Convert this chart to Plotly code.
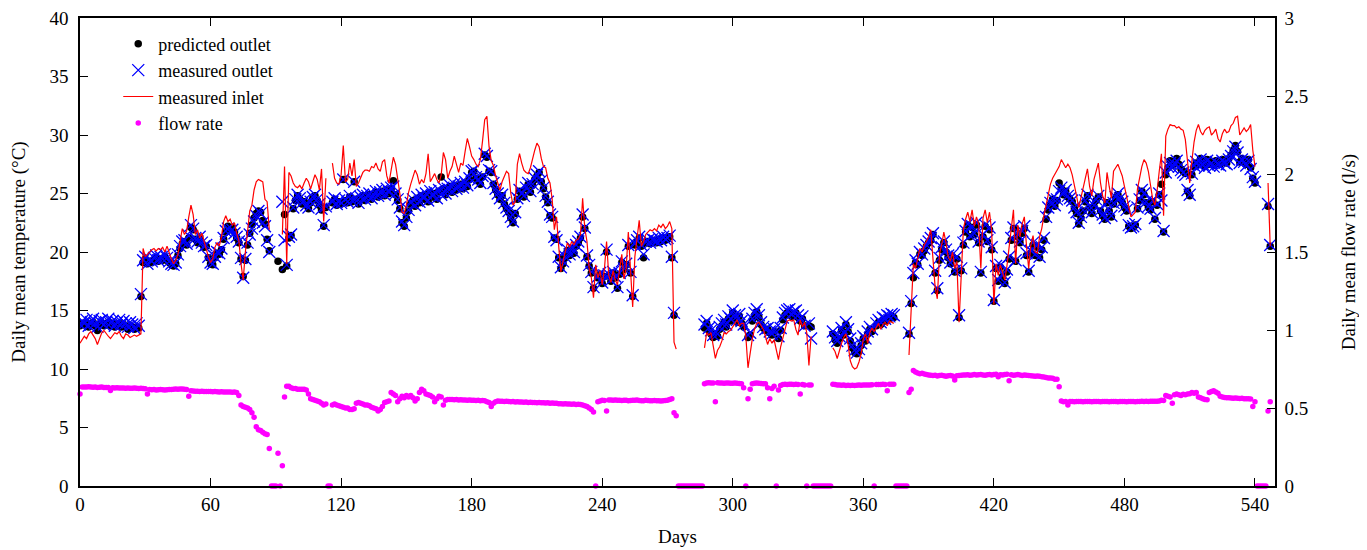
import plotly.graph_objects as go

N = None

# measured outlet temperature (deg C), one value per day starting at day 0 (10 per row)
measured_outlet = [
    13.8, 14.1, 13.9, 14.2, 13.7, 14.0, 14.3, 13.9, 13.6, 14.1,
    14.2, 13.8, 14.0, 14.3, 13.9, 14.1, 13.7, 14.0, 14.2, 13.8,
    14.1, 13.9, 13.6, 14.0, 13.8, 13.5, 13.9, 13.7, 16.4, 19.3,
    19.6, 19.0, 19.4, 19.2, 19.5, 19.7, 19.3, 19.6, 19.4, 19.8,
    19.5, 19.2, 19.0, 18.9, 19.1, 19.8, 20.5, 20.9, 21.0, 20.7,
    21.4, 22.3, 22.0, 21.2, 20.9, 21.3, 20.8, 20.5, 20.6, 19.6,
    19.1, 19.0, 19.6, 20.0, 19.9, 20.3, 21.2, 21.8, 22.0, 21.7,
    21.9, 21.6, 21.3, 20.9, 19.5, 17.8, 19.4, 20.8, 21.5, 22.0,
    22.6, 23.1, 23.5, 23.3, 22.5, 22.2, 21.0, 20.0, N, N,
    N, N, N, 24.3, 21.0, 18.9, 21.3, 21.5, 23.8, 24.5,
    24.9, 24.6, 24.2, 24.4, 24.0, 23.8, 24.3, 24.7, 24.9, 24.5,
    24.1, 23.7, 22.3, 23.9, N, N, 24.3, 24.6, 24.1, 24.4,
    24.2, 26.2, 24.5, 24.3, 24.8, 24.4, 26.0, 24.6, 24.2, 24.7,
    24.9, 24.5, 24.8, 25.0, 24.6, 24.9, 25.2, 24.8, 25.1, 25.3,
    24.9, 25.4, 25.1, 25.5, 25.6, 25.0, 24.5, 23.8, 22.6, 22.3,
    23.0, 23.6, 24.2, 24.5, 24.0, 24.7, 24.3, 24.9, 24.6, 25.0,
    24.4, 25.2, 24.8, 25.1, 24.6, 25.3, 24.9, 25.5, 25.0, 25.4,
    25.7, 25.2, 25.8, 25.4, 25.6, 25.9, 25.5, 26.0, 25.7, 26.3,
    26.9, 27.0, 26.4, 26.2, 25.9, 26.5, 28.4, 28.2, 27.0, 26.9,
    25.9, 25.4, 25.0, 24.6, 24.9, 24.2, 23.8, 23.5, 23.0, 22.6,
    23.4, 24.6, 25.3, 25.0, 24.8, 25.5, 25.9, 25.2, 25.8, 26.3,
    26.6, 26.9, 26.1, 25.5, 24.8, 24.3, 23.2, 23.0, 21.3, 21.0,
    19.6, 18.7, 19.2, 19.6, 20.2, 19.8, 20.4, 20.0, 20.6, 20.9,
    21.3, 23.2, 22.1, 19.7, 18.9, 18.3, 17.0, N, 17.9, 18.2,
    17.4, 18.0, 20.2, 18.1, 17.6, 18.3, 17.9, 17.0, 18.2, 19.2,
    18.6, 19.0, 20.6, 18.3, 16.3, 20.7, 21.0, 21.3, 20.6, 19.8,
    20.9, 21.0, 20.8, 21.1, 21.0, 20.9, 21.2, 21.0, 21.3, 21.1,
    21.2, 21.4, 19.6, 14.8, N, N, N, N, N, N,
    N, N, N, N, N, N, N, 13.8, 14.1, 13.5,
    13.3, 12.9, 13.2, 13.0, 13.6, 13.9, 14.2, 13.8, 14.5, 14.3,
    15.0, 14.6, 14.2, 14.7, 14.1, 13.8, N, 12.9, 13.1, 14.3,
    14.8, 15.1, 14.6, 14.0, 13.6, 13.4, 13.5, 13.2, 13.0, 13.4,
    N, 12.8, 13.5, 14.4, 14.8, 15.0, 15.1, 14.7, 14.9, 15.0,
    14.6, 14.3, 14.5, 13.7, N, 13.9, 12.6, N, N, N,
    N, N, N, N, N, N, 13.2, 12.7, 12.4, 12.8,
    13.5, 13.1, 14.0, 13.4, 12.6, 12.0, 11.6, 11.4, 11.7, 12.2,
    12.8, 12.6, 13.2, 13.6, 13.4, N, 13.9, 14.2, 14.0, 14.4,
    14.3, 14.6, 14.5, 14.7, 14.6, N, N, N, N, N,
    N, 13.1, 15.8, 18.2, 19.3, 19.0, 20.0, 19.8, 20.3, 20.6,
    20.9, 21.2, 21.6, 18.4, 16.9, 19.5, 20.4, 20.9, 20.2, 19.7,
    19.1, 19.8, 18.4, 19.6, 14.6, 18.6, 20.8, 21.8, 22.4, 21.4,
    22.2, 21.6, 22.5, 20.9, 18.3, 21.5, 22.3, 21.0, 22.1, 20.4,
    15.9, 18.8, 17.6, 18.9, 18.1, 17.4, 18.5, 19.6, 21.2, 22.1,
    19.3, 21.5, 20.9, 21.8, 22.2, 19.9, 18.4, 20.1, 20.8, 19.8,
    20.6, 19.6, 20.4, 21.2, 23.0, 23.8, 24.2, 24.6, 24.0, 24.5,
    25.2, 25.5, 25.0, 25.3, 24.8, 24.6, 24.4, 23.8, 23.4, 22.5,
    23.0, 23.6, 24.4, 24.9, 23.9, 23.4, 24.0, 24.5, 24.8, 23.6,
    23.2, 22.9, 24.3, 23.6, 23.1, 24.2, 24.7, 25.0, 24.6, 24.3,
    23.9, 23.6, 22.3, 22.1, 22.2, 22.4, 23.8, 24.5, 25.3, 25.0,
    24.3, 23.9, 23.7, 24.4, 22.9, 24.1, 25.0, 24.4, 21.8, 26.8,
    27.3, 27.6, 27.2, 27.5, 27.8, 27.3, 27.0, 26.8, 26.6, 25.3,
    24.9, 26.7, 27.4, 27.7, 27.4, 27.9, 27.5, 27.2, 27.8, 27.4,
    27.6, 27.3, 27.7, 27.5, 27.4, 27.8, 27.6, 27.5, 27.9, 28.2,
    28.6, 29.0, 28.5, 27.6, 27.9, 27.7, 27.4, 27.8, 27.1, 26.4,
    26.0, N, N, N, N, N, 24.1, 20.6,
]

# predicted outlet temperature (deg C)
predicted_outlet = [
    13.7, 13.9, 13.8, 13.9, 13.6, 13.8, 14.0, 13.7, 13.3, 13.8,
    13.9, 13.7, 13.8, 14.0, 13.7, 13.9, 13.6, 13.8, 13.9, 13.6,
    13.8, 13.7, 13.4, 13.7, 13.6, 13.4, 13.6, 13.5, 16.2, 19.1,
    19.4, 19.0, 19.2, 19.1, 19.3, 19.5, 19.2, 19.4, 19.3, 19.6,
    19.3, 19.1, 18.9, 18.8, 19.0, 19.7, 20.3, 20.7, 20.9, 20.6,
    21.2, 22.1, 21.9, 21.1, 20.8, 21.2, 20.7, 20.4, 20.5, 19.5,
    19.0, 18.9, 19.5, 19.9, 19.8, 20.2, 21.1, 21.7, 22.2, 21.9,
    22.1, 21.7, 21.2, 20.8, 19.4, 17.9, 19.3, 20.6, 21.6, 22.3,
    22.9, 23.3, 23.5, 23.4, 22.7, 22.4, 21.1, 20.1, N, N,
    N, 19.2, N, 18.5, 23.2, 18.8, 21.2, 21.4, 23.7, 24.4,
    24.8, 24.5, 24.1, 24.3, 24.0, 23.7, 24.2, 24.6, 24.8, 24.4,
    24.0, 23.6, 22.2, 23.8, N, N, 24.2, 24.5, 24.0, 24.3,
    24.1, 26.2, 24.4, 24.2, 24.7, 24.3, 26.0, 24.5, 24.1, 24.6,
    24.8, 24.4, 24.7, 24.9, 24.5, 24.8, 25.1, 24.7, 25.0, 25.2,
    24.8, 25.3, 25.0, 25.4, 26.1, 24.9, 24.4, 23.7, 22.5, 22.2,
    22.9, 23.5, 24.1, 24.4, 23.9, 24.6, 24.2, 24.8, 24.5, 24.9,
    24.3, 25.1, 24.7, 25.0, 24.5, 25.2, 26.4, 25.4, 24.9, 25.3,
    25.6, 25.1, 25.7, 25.3, 25.5, 25.8, 25.4, 25.9, 25.6, 26.2,
    26.8, 26.9, 26.3, 26.1, 25.8, 26.4, 28.3, 28.1, 26.9, 26.8,
    25.8, 25.3, 24.9, 24.5, 24.8, 24.1, 23.7, 23.4, 22.9, 22.5,
    23.3, 24.5, 25.2, 24.9, 24.7, 25.4, 25.8, 25.1, 25.7, 26.2,
    26.5, 26.8, 26.0, 25.4, 24.7, 24.2, 23.1, 22.9, 21.2, 21.1,
    19.5, 18.6, 19.0, 19.5, 20.1, 19.7, 20.3, 19.9, 20.5, 20.8,
    21.2, 23.0, 22.0, 19.6, 18.8, 18.2, 16.9, N, 17.8, 18.1,
    17.3, 17.9, 20.0, 18.0, 17.5, 18.2, 17.8, 16.9, 18.1, 19.1,
    18.5, 18.9, 20.5, 18.2, 16.2, 20.6, 20.9, 21.2, 20.5, 19.5,
    20.8, 20.9, 20.7, 21.0, 20.9, 20.8, 21.1, 20.9, 21.2, 21.0,
    21.1, 21.3, 19.5, 14.6, N, N, N, N, N, N,
    N, N, N, N, N, N, N, 13.5, 13.9, 13.3,
    13.0, 12.7, 13.0, 12.8, 13.4, 13.7, 14.0, 13.6, 14.3, 14.1,
    14.8, 14.4, 14.0, 14.5, 13.9, 13.6, N, 12.7, 12.9, 14.1,
    14.6, 14.9, 14.4, 13.8, 13.5, 13.3, 13.4, 13.1, 12.9, 13.2,
    N, 12.6, 13.3, 14.2, 14.6, 14.8, 14.9, 14.5, 14.7, 14.8,
    14.4, 14.1, 14.3, 13.7, N, 13.7, 13.6, N, N, N,
    N, N, N, N, N, N, 13.0, 12.5, 12.2, 12.6,
    13.3, 12.9, 13.8, 13.2, 12.4, 11.8, 11.4, 11.3, 11.5, 12.0,
    12.6, 12.4, 13.0, 13.4, 13.2, N, 13.7, 14.0, 13.8, 14.2,
    14.1, 14.4, 14.3, 14.5, 14.4, N, N, N, N, N,
    N, 13.0, 15.6, 17.8, 19.1, 18.9, 19.8, 19.7, 20.1, 20.5,
    20.8, 21.0, 21.5, 18.2, 16.7, 19.3, 20.2, 20.8, 20.0, 19.5,
    19.0, 19.6, 18.3, 19.4, 14.4, 18.4, 20.6, 21.7, 22.3, 21.3,
    22.1, 21.5, 22.3, 20.8, 18.2, 21.3, 22.2, 20.9, 21.9, 20.2,
    15.8, 18.6, 17.5, 18.7, 17.9, 17.3, 18.3, 19.4, 21.0, 22.0,
    19.2, 21.3, 20.8, 21.6, 22.0, 19.7, 18.3, 19.9, 20.6, 19.7,
    20.4, 19.5, 20.2, 21.0, 22.8, 23.6, 24.1, 24.5, 23.9, 24.4,
    25.9, 25.4, 24.9, 25.2, 24.7, 24.5, 24.3, 23.7, 23.3, 22.4,
    22.9, 23.5, 24.3, 24.8, 23.8, 23.3, 23.9, 24.4, 24.7, 23.5,
    23.1, 22.8, 24.2, 23.5, 23.0, 24.1, 24.6, 24.9, 24.5, 24.2,
    23.8, 23.5, 22.2, 22.0, 22.1, 22.3, 23.7, 24.4, 25.2, 24.9,
    24.2, 23.8, 23.6, 24.3, 22.8, 24.0, 24.9, 25.8, 21.7, 26.6,
    27.2, 27.8, 27.4, 27.7, 28.0, 27.5, 27.1, 26.9, 26.7, 25.2,
    24.8, 26.6, 27.3, 27.6, 27.5, 28.0, 27.6, 27.3, 27.9, 27.5,
    27.7, 27.4, 27.8, 27.6, 27.5, 27.9, 27.7, 27.6, 28.0, 28.3,
    28.7, 29.1, 28.6, 27.7, 28.0, 27.8, 27.5, 27.9, 27.2, 26.3,
    25.9, N, N, N, N, N, 23.9, 20.5,
]

# measured inlet temperature (deg C)
measured_inlet = [
    12.2, 12.5, 12.8, 12.6, 13.0, 13.2, 12.9, 12.6, 12.1, 12.7,
    13.1, 13.3, 13.0, 12.8, 12.6, 12.9, 13.1, 13.0, 13.2, 12.8,
    12.6, 13.0, 12.9, 12.7, 12.8, 12.9, 12.8, 12.9, 13.0, 20.3,
    19.6, 19.8, 20.0, 20.2, 20.3, 20.1, 20.3, 20.2, 20.4, 20.0,
    20.5, 19.9, 19.4, 19.0, 19.3, 19.8, 21.0, 22.0, 21.5, 21.8,
    23.0, 24.0, 23.2, 21.5, 21.9, 21.2, 21.6, 20.9, 20.3, 19.6,
    19.1, 19.4, 20.4, 20.8, 20.5, 21.3, 22.6, 23.1, 22.6, 22.8,
    22.3, 22.5, 21.6, 21.0, 19.0, 17.6, 20.0, 22.0, 23.5, 24.0,
    25.3, 26.0, 26.2, 26.1, 26.0, 24.5, 24.3, 21.9, N, N,
    N, N, N, 21.5, 27.3, 19.0, 26.8, 26.5, 25.9, 25.6,
    25.5, 25.7, 25.4, 25.9, 26.3, 26.0, 25.4, 26.0, 26.6, 26.2,
    25.3, 27.1, 22.6, 26.3, N, N, 27.6, 26.3, 25.9, 25.8,
    26.6, 29.1, 26.0, 26.2, 27.6, 26.5, 27.9, 25.6, 25.9, 26.3,
    26.8, 27.0, 27.0, 26.9, 27.3, 27.2, 27.6, 27.1, 26.9, 27.7,
    27.9, 26.5, 25.9, 27.0, 28.1, 27.5, 26.3, 25.0, 23.4, 23.3,
    24.0, 25.1, 25.8, 26.5, 27.0, 26.6, 25.8, 26.2, 25.9, 26.7,
    28.4, 26.0, 26.3, 26.7, 26.2, 25.9, 26.6, 28.5, 27.9, 26.3,
    26.9, 27.3, 28.2, 27.6, 26.8, 27.6, 27.4, 28.6, 29.7, 29.0,
    28.2, 27.9, 27.5, 27.3, 27.9, 29.5, 31.3, 31.6, 29.0, 27.8,
    27.4, 26.5, 25.8, 25.3, 26.0, 26.4, 26.9, 26.7, 25.0, 24.0,
    24.3, 27.5, 28.4, 27.6, 27.0, 26.8, 26.7, 27.2, 28.1, 28.7,
    29.3, 29.0, 28.0, 27.3, 27.2, 26.3, 25.9, 24.5, 21.9, 23.0,
    20.5, 18.3, 19.2, 19.9, 20.8, 20.4, 20.9, 20.6, 21.0, 21.1,
    21.5, 24.6, 22.0, 20.9, 18.6, 17.8, 16.1, 18.9, 17.8, 18.4,
    17.2, 18.5, 20.9, 18.0, 17.4, 18.4, 17.6, 17.2, 18.6, 19.8,
    17.7, 18.6, 21.7, 18.4, 15.3, 19.6, 21.2, 22.7, 20.5, 20.9,
    21.5, 21.7, 21.9, 21.8, 22.0, 21.8, 22.3, 22.1, 22.4, 22.0,
    22.2, 22.6, 22.0, 12.3, 11.7, N, N, N, N, N,
    N, N, N, N, N, N, N, 11.8, 13.1, 12.9,
    13.1, 12.0, 10.9, 11.6, 11.9, 12.4, 13.1, 13.0, 13.2, 13.3,
    13.6, 13.9, 14.2, 13.7, 13.9, 13.9, 12.8, 10.1, 11.4, 12.6,
    13.4, 13.9, 14.0, 13.7, 13.4, 12.8, 12.1, 12.6, 12.2, 12.5,
    11.6, 10.8, 11.9, 12.6, 13.5, 14.1, 14.2, 14.1, 14.2, 13.4,
    12.9, 14.2, 13.6, 14.0, 13.1, 10.3, 12.8, N, N, N,
    N, N, N, N, N, N, 11.8, 11.5, 10.9, 11.6,
    12.2, 12.7, 13.0, 12.1, 10.7, 10.2, 10.0, 10.1, 10.6, 11.3,
    12.6, 13.0, 12.2, 13.1, 13.5, 13.2, 13.6, 13.9, 13.4, 13.8,
    14.0, 13.7, 14.1, 14.0, 13.9, N, N, N, N, N,
    N, 11.2, 15.0, 19.0, 18.6, 19.5, 20.3, 20.0, 20.6, 20.9,
    21.3, 21.9, 19.5, 17.0, 16.0, 19.8, 20.6, 21.7, 20.8, 19.6,
    19.2, 20.0, 18.6, 19.2, 14.0, 18.5, 22.0, 22.8, 23.4, 22.6,
    23.6, 22.2, 23.0, 22.4, 18.6, 22.9, 23.6, 22.5, 23.4, 21.8,
    15.5, 19.0, 18.0, 18.9, 18.3, 17.6, 18.8, 20.2, 22.0, 23.6,
    19.0, 22.3, 21.3, 22.4, 23.0, 20.5, 18.6, 20.6, 21.4, 20.0,
    19.9, 21.3, 22.0, 23.1, 24.0, 25.0, 25.8, 26.3, 26.6, 26.9,
    27.3, 27.9, 27.5, 27.2, 27.5, 27.2, 26.6, 25.8, 24.8, 23.8,
    24.6, 25.3, 26.3, 27.1, 25.6, 24.8, 26.2, 26.8, 27.6, 25.9,
    24.8, 24.2, 26.8, 25.6, 24.6, 26.9, 27.2, 27.5, 27.0, 26.5,
    25.6, 24.8, 23.8, 23.0, 23.2, 23.4, 25.4, 26.4, 27.3, 27.9,
    27.6, 26.9, 25.7, 24.5, 24.0, 25.2, 26.9, 28.4, 23.1, 29.9,
    30.5, 30.9, 30.8, 30.8, 30.6, 30.7, 30.5, 30.4, 29.6, 27.9,
    25.9, 27.8, 29.4, 30.4, 30.9, 30.3, 30.0, 30.4, 30.6, 30.7,
    30.0, 30.2, 30.5, 29.7, 29.4, 30.1, 30.5, 30.2, 30.3, 30.8,
    31.0, 31.5, 31.6, 30.0, 30.3, 30.6, 30.3, 30.5, 30.9, 28.7,
    27.3, N, N, N, N, N, 25.9, 20.5,
]

# daily mean flow rate (l/s)
flow_rate = [
    0.59, 0.635, 0.635, 0.634, 0.636, 0.635, 0.633, 0.634, 0.632, 0.633,
    0.634, 0.632, 0.631, 0.632, 0.612, 0.630, 0.629, 0.630, 0.628, 0.629,
    0.628, 0.627, 0.628, 0.626, 0.627, 0.628, 0.626, 0.625, 0.626, 0.625,
    0.624, 0.59, 0.618, 0.617, 0.618, 0.616, 0.617, 0.618, 0.617, 0.616,
    0.617, 0.618, 0.619, 0.620, 0.621, 0.620, 0.621, 0.622, 0.620, 0.619,
    0.575, 0.610, 0.609, 0.608, 0.607, 0.606, 0.607, 0.606, 0.605, 0.606,
    0.605, 0.604, 0.605, 0.604, 0.603, 0.604, 0.603, 0.602, 0.603, 0.602,
    0.601, 0.602, 0.600, 0.580, 0.520, 0.510, 0.505, 0.500, 0.490, 0.470,
    0.440, 0.380, 0.360, 0.355, 0.345, 0.335, 0.330, 0.240, 0, 0,
    0, 0.21, 0, 0.13, 0.57, 0.64, 0.64, 0.63, 0.625, 0.625,
    0.62, 0.62, 0.62, 0.62, 0.615, 0.59, 0.56, 0.555, 0.55, 0.545,
    0.54, 0.53, 0.52, 0.525, 0, 0, 0.52, 0.525, 0.52, 0.515,
    0.51, 0.505, 0.50, 0.50, 0.49, 0.49, 0.495, 0.53, 0.535, 0.53,
    0.525, 0.52, 0.52, 0.515, 0.505, 0.50, 0.495, 0.48, 0.49, 0.51,
    0.535, 0.54, 0.545, 0.60, 0.59, 0.58, 0.54, 0.56, 0.575, 0.565,
    0.58, 0.57, 0.58, 0.565, 0.545, 0.56, 0.60, 0.62, 0.61, 0.59,
    0.585, 0.58, 0.57, 0.54, 0.56, 0.575, 0.57, 0.52, 0.55, 0.555,
    0.555, 0.554, 0.553, 0.555, 0.552, 0.553, 0.551, 0.552, 0.550, 0.551,
    0.549, 0.550, 0.548, 0.549, 0.547, 0.548, 0.546, 0.540, 0.535, 0.510,
    0.530, 0.540, 0.545, 0.544, 0.543, 0.542, 0.543, 0.541, 0.540, 0.541,
    0.539, 0.540, 0.538, 0.539, 0.537, 0.538, 0.536, 0.537, 0.535, 0.536,
    0.534, 0.535, 0.533, 0.534, 0.532, 0.533, 0.531, 0.532, 0.530, 0.531,
    0.528, 0.527, 0.526, 0.527, 0.525, 0.526, 0.524, 0.525, 0.523, 0.524,
    0.522, 0.520, 0.515, 0.510, 0.500, 0.490, 0.475, 0, 0.540, 0.545,
    0.550, 0.548, 0.480, 0.551, 0.552, 0.550, 0.551, 0.549, 0.550, 0.548,
    0.549, 0.550, 0.547, 0.548, 0.549, 0.550, 0.552, 0.548, 0.546, 0.547,
    0.549, 0.548, 0.546, 0.547, 0.548, 0.546, 0.547, 0.545, 0.546, 0.548,
    0.550, 0.555, 0.560, 0.470, 0.450, 0, 0, 0, 0, 0,
    0, 0, 0, 0, 0, 0, 0, 0.655, 0.66, 0.662,
    0.66, 0.661, 0.54, 0.662, 0.66, 0.661, 0.659, 0.66, 0.661, 0.658,
    0.659, 0.66, 0.658, 0.657, 0.655, 0.63, 0, 0.56, 0.62, 0.655,
    0.658, 0.66, 0.659, 0.657, 0.656, 0.655, 0.63, 0.56, 0.625, 0.64,
    0, 0.615, 0.645, 0.65, 0.652, 0.651, 0.653, 0.652, 0.651, 0.652,
    0.65, 0.59, 0.65, 0.648, 0, 0.647, 0.648, 0, 0, 0,
    0, 0, 0, 0, 0, 0, 0.652, 0.65, 0.648, 0.647,
    0.646, 0.647, 0.645, 0.646, 0.645, 0.646, 0.645, 0.646, 0.647, 0.646,
    0.647, 0.648, 0.647, 0.648, 0.649, 0, 0.65, 0.651, 0.65, 0.652,
    0.651, 0.61, 0.652, 0.653, 0.652, 0, 0, 0, 0, 0,
    0, 0.60, 0.62, 0.74, 0.73, 0.725, 0.72, 0.722, 0.718, 0.715,
    0.712, 0.71, 0.708, 0.71, 0.705, 0.708, 0.71, 0.706, 0.704, 0.707,
    0.708, 0.705, 0.68, 0.706, 0.709, 0.71, 0.712, 0.711, 0.713, 0.71,
    0.712, 0.714, 0.711, 0.713, 0.715, 0.712, 0.71, 0.713, 0.715, 0.712,
    0.714, 0.716, 0.70, 0.713, 0.712, 0.714, 0.716, 0.675, 0.713, 0.71,
    0.712, 0.714, 0.711, 0.709, 0.712, 0.71, 0.708, 0.706, 0.705, 0.703,
    0.705, 0.703, 0.70, 0.698, 0.695, 0.693, 0.692, 0.69, 0.685, 0.684,
    0.637, 0.545, 0.54, 0.541, 0.52, 0.542, 0.541, 0.54, 0.541, 0.542,
    0.541, 0.54, 0.541, 0.542, 0.541, 0.54, 0.541, 0.542, 0.541, 0.54,
    0.541, 0.542, 0.541, 0.54, 0.541, 0.542, 0.541, 0.54, 0.541, 0.542,
    0.541, 0.54, 0.541, 0.542, 0.541, 0.54, 0.541, 0.542, 0.543, 0.542,
    0.543, 0.542, 0.543, 0.544, 0.543, 0.544, 0.545, 0.55, 0.548, 0.58,
    0.575, 0.57, 0.53, 0.585, 0.59, 0.585, 0.58, 0.588, 0.585, 0.59,
    0.592, 0.60, 0.595, 0.60, 0.57, 0.565, 0.56, 0.555, 0.553, 0.60,
    0.605, 0.61, 0.603, 0.595, 0.575, 0.57, 0.568, 0.566, 0.565, 0.564,
    0.563, 0.564, 0.562, 0.561, 0.562, 0.56, 0.56, 0.559, 0.558, 0.51,
    0.54, 0, 0, 0, 0, 0, 0.48, 0.54,
]

x_ticks = [0, 60, 120, 180, 240, 300, 360, 420, 480, 540]

FONT = "Liberation Serif"


def days(series):
    return list(range(len(series)))


fig = go.Figure()
fig.add_trace(go.Scatter(
    x=days(predicted_outlet), y=predicted_outlet, mode="markers",
    name="predicted outlet",
    marker=dict(symbol="circle", size=7.5, color="black"),
))
fig.add_trace(go.Scatter(
    x=days(measured_outlet), y=measured_outlet, mode="markers",
    name="measured outlet",
    marker=dict(symbol="x-thin", size=12, color="#0000ff",
                line=dict(color="#0000ff", width=1.3)),
))
fig.add_trace(go.Scatter(
    x=days(measured_inlet), y=measured_inlet, mode="lines",
    name="measured inlet", connectgaps=False,
    line=dict(color="#ff0000", width=1.2),
))
fig.add_trace(go.Scatter(
    x=days(flow_rate), y=flow_rate, mode="markers", yaxis="y2",
    name="flow rate", cliponaxis=False,
    marker=dict(symbol="circle", size=5.5, color="#ff00ff"),
))

axis_common = dict(
    showline=True, linecolor="black", linewidth=1.5,
    ticks="inside", ticklen=8, tickwidth=1, tickcolor="black",
    showgrid=False, zeroline=False, automargin=False,
    ticklabeloverflow="allow",
    tickfont=dict(family=FONT, size=19, color="black"),
)

# the page body adds an 8 px offset, so the figure is drawn 8 px smaller
fig.update_layout(
    width=1359, height=542, autosize=False,
    margin=dict(l=72, r=92, t=10, b=64),
    paper_bgcolor="white", plot_bgcolor="white",
    font=dict(family=FONT, size=19, color="black"),
    showlegend=True,
    legend=dict(x=0.032, y=0.984, xanchor="left", yanchor="top",
                bgcolor="rgba(0,0,0,0)", borderwidth=0,
                font=dict(family=FONT, size=18, color="black"),
                tracegroupgap=0),
    xaxis=dict(range=[0, 549.2], tickvals=x_ticks, mirror="ticks",
               title=dict(text="Days", font=dict(family=FONT, size=19), standoff=16),
               **axis_common),
    yaxis=dict(range=[0, 40], dtick=5, tick0=0, ticklabelstandoff=6,
               title=dict(text="Daily mean temperature (°C)",
                          font=dict(family=FONT, size=19), standoff=22),
               **axis_common),
    yaxis2=dict(range=[0, 3], dtick=0.5, tick0=0, overlaying="y", side="right",
                ticklabelstandoff=4,
                title=dict(text="Daily mean flow rate (l/s)",
                           font=dict(family=FONT, size=19), standoff=34),
                **axis_common),
)

fig.write_html("out.html")
